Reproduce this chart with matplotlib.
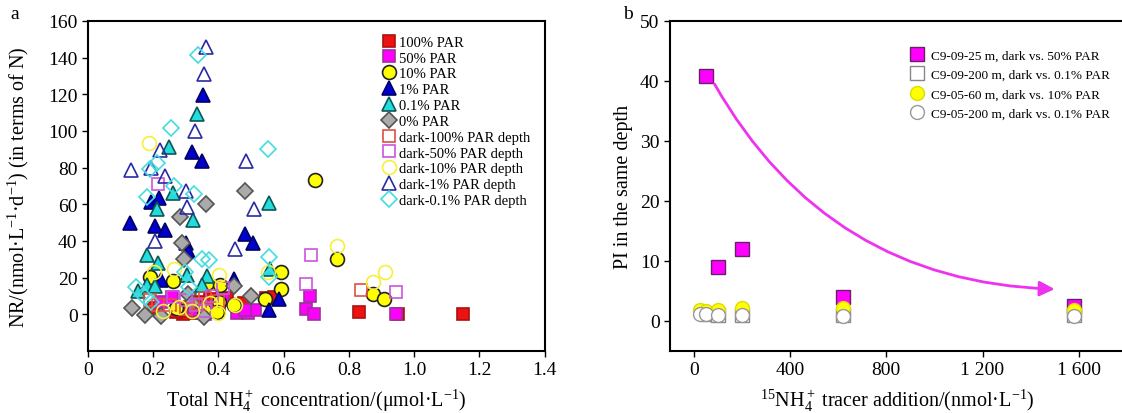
import matplotlib
matplotlib.use("Agg")
import matplotlib.pyplot as plt

plt.rcParams['font.family'] = ['Liberation Serif', 'DejaVu Serif']
plt.rcParams['mathtext.fontset'] = 'custom'
plt.rcParams['mathtext.rm'] = 'Liberation Serif'
plt.rcParams['mathtext.it'] = 'Liberation Serif:italic'

# ---- panel a data: NH4+ concentration vs NR ----
p100_x = [0.292, 0.27, 0.314, 0.347, 0.375, 0.425, 0.478, 0.547, 0.569, 0.402, 0.203, 0.832, 0.950, 1.150, 0.30, 0.33]
p100_y = [0, 1.4, 4.2, 6.9, 8.3, 8.7, 6.0, 8.7, 9.6, 5.0, 3.3, 1.3, 0, 0, 2, 0.5]

p50_x = [0.682, 0.667, 0.693, 0.945, 0.457, 0.491, 0.513, 0.258, 0.413, 0.225, 0.325, 0.358, 0.482, 0.38]
p50_y = [10.2, 3.1, 0, 0, 0.5, 0.5, 2.4, 9.6, 7.8, 6.9, 2.4, 0, 2.2, 4]

p10_x = [0.696, 0.762, 0.873, 0.906, 0.592, 0.592, 0.542, 0.190, 0.260, 0.364, 0.405, 0.402, 0.447, 0.271, 0.357, 0.395]
p10_y = [73, 30.2, 10.8, 8.5, 23, 13.5, 8.5, 20.5, 18, 16.9, 16, 6.9, 5, 3.4, 2.2, 1.2]

p1_x = [0.353, 0.318, 0.351, 0.130, 0.194, 0.218, 0.204, 0.235, 0.302, 0.307, 0.480, 0.505, 0.555, 0.585, 0.449, 0.225]
p1_y = [119.5, 88.4, 83.5, 49.5, 61.4, 63.2, 48.3, 46.2, 39, 34.5, 43.5, 38.6, 2.5, 8.4, 19.2, 18.7]

p01_x = [0.333, 0.248, 0.261, 0.212, 0.321, 0.554, 0.182, 0.215, 0.153, 0.182, 0.204, 0.305, 0.364, 0.348, 0.558]
p01_y = [109, 91.4, 65.9, 57.3, 51.5, 60.7, 32.2, 28.2, 12.9, 16, 15.6, 21.4, 21, 16, 24.6]

p0_x = [0.480, 0.362, 0.282, 0.288, 0.295, 0.449, 0.500, 0.135, 0.174, 0.223, 0.357, 0.307, 0.32]
p0_y = [67.3, 60.2, 53, 38.8, 30.2, 15.6, 9.8, 3.4, -0.2, -1.2, -1.4, 11, 6]

d100_x = [0.837, 0.215, 0.251, 0.343, 0.19, 0.30, 0.40, 0.36]
d100_y = [13, 5.2, 4.8, 5.8, 8, 3, 7, 9]

d50_x = [0.216, 0.684, 0.667, 0.945, 0.414, 0.262, 0.30, 0.33, 0.36, 0.38]
d50_y = [71, 32.3, 16.3, 12.4, 14.1, 9.6, 8, 5, 2, 10]

d10_x = [0.186, 0.762, 0.873, 0.910, 0.552, 0.402, 0.264, 0.203, 0.28, 0.319, 0.375, 0.40, 0.23, 0.45]
d10_y = [93.5, 37.3, 17.5, 23, 23.2, 21.4, 24.5, 23.2, 4.2, 1.8, 6, 0.5, 2, 5]

d1_x = [0.362, 0.355, 0.328, 0.132, 0.194, 0.220, 0.237, 0.302, 0.305, 0.204, 0.485, 0.508, 0.451]
d1_y = [146, 131, 99.8, 78.8, 80, 89.8, 75.5, 67.3, 58.7, 39.9, 83.8, 57.3, 35.6]

d01_x = [0.337, 0.253, 0.553, 0.189, 0.212, 0.182, 0.264, 0.325, 0.556, 0.350, 0.372, 0.310, 0.148, 0.174, 0.194, 0.554, 0.296]
d01_y = [141.5, 101.5, 90, 79, 82.5, 64, 70, 65.5, 31, 30, 29.5, 14.7, 14.7, 9.3, 6.6, 20.1, 23]

# ---- panel b data: tracer addition vs PI ----
c0925_x = [50, 100, 200, 620, 1580]
c0925_y = [40.8, 9, 12, 4, 2.5]
c09200_x = [50, 100, 200, 620, 1580]
c09200_y = [1.2, 1.0, 1.0, 1.0, 1.0]
c0560_x = [25, 50, 100, 200, 620, 1580]
c0560_y = [1.9, 1.7, 1.8, 2.2, 2.2, 1.8]
c05200_x = [25, 50, 100, 200, 620, 1580]
c05200_y = [1.2, 1.2, 1.0, 1.0, 0.9, 0.8]

fig = plt.figure(figsize=(11.22, 4.14), dpi=100)
ax1 = fig.add_axes([0.0784, 0.150, 0.4071, 0.797])
ax2 = fig.add_axes([0.5971, 0.150, 0.4050, 0.797])

# panel a
series = [
    (p100_x, p100_y, 's', '#ee1111', '#aa1111', '100% PAR', 9),
    (p50_x, p50_y, 's', '#ff00ff', '#993399', '50% PAR', 9),
    (p10_x, p10_y, 'o', '#ffff00', '#222222', '10% PAR', 10),
    (p1_x, p1_y, '^', '#0000cc', '#000066', '1% PAR', 10),
    (p01_x, p01_y, '^', '#22dddd', '#115555', '0.1% PAR', 10),
    (p0_x, p0_y, 'D', '#aaaaaa', '#555555', '0% PAR', 8),
    (d100_x, d100_y, 's', 'none', '#e05040', 'dark-100% PAR depth', 9),
    (d50_x, d50_y, 's', 'none', '#cc55dd', 'dark-50% PAR depth', 9),
    (d10_x, d10_y, 'o', 'none', '#f5f03a', 'dark-10% PAR depth', 10),
    (d1_x, d1_y, '^', 'none', '#2a2aa5', 'dark-1% PAR depth', 10),
    (d01_x, d01_y, 'D', 'none', '#44dddd', 'dark-0.1% PAR depth', 8),
]
for x, y, m, fc, ec, lab, ms in series:
    ax1.plot(x, y, linestyle='none', marker=m, markersize=ms, markerfacecolor=fc,
             markeredgecolor=ec, markeredgewidth=1.2, label=lab)

ax1.set_xlim(0, 1.4)
ax1.set_ylim(-20, 160)
ax1.set_xticks([0, 0.2, 0.4, 0.6, 0.8, 1.0, 1.2, 1.4])
ax1.set_xticklabels(['0', '0.2', '0.4', '0.6', '0.8', '1.0', '1.2', '1.4'])
ax1.set_yticks(range(0, 161, 20))
ax1.set_xlabel('Total NH$_4^+$ concentration/(μmol·L$^{-1}$)', fontsize=14.5, labelpad=6)
ax1.set_ylabel('NR/(nmol·L$^{-1}$·d$^{-1}$) (in terms of N)', fontsize=14.5, labelpad=12)
ax1.legend(loc='upper right', frameon=False, fontsize=10.5, handletextpad=0.2,
           labelspacing=0.18, borderaxespad=0.6, handlelength=1.0)
fig.text(0.009, 0.955, 'a', fontsize=14)

# panel b
ax2.plot(c0925_x, c0925_y, linestyle='none', marker='s', markersize=10, markerfacecolor='#ff00ff',
         markeredgecolor='#662266', markeredgewidth=1.0, label='C9-09-25 m, dark vs. 50% PAR', zorder=3)
ax2.plot(c09200_x, c09200_y, linestyle='none', marker='s', markersize=10, markerfacecolor='white',
         markeredgecolor='#888888', markeredgewidth=1.0, label='C9-09-200 m, dark vs. 0.1% PAR', zorder=3)
ax2.plot(c0560_x, c0560_y, linestyle='none', marker='o', markersize=10, markerfacecolor='#ffff00',
         markeredgecolor='#dddd00', markeredgewidth=1.0, label='C9-05-60 m, dark vs. 10% PAR', zorder=4)
ax2.plot(c05200_x, c05200_y, linestyle='none', marker='o', markersize=10, markerfacecolor='white',
         markeredgecolor='#999999', markeredgewidth=1.0, label='C9-05-200 m, dark vs. 0.1% PAR', zorder=5)

ax2.annotate('', xy=(1500, 5.3), xytext=(85, 39.5),
             arrowprops=dict(arrowstyle='-|>,head_length=0.9,head_width=0.45', color='#ee33ee',
                             lw=2, connectionstyle='arc3,rad=0.28', shrinkA=0, shrinkB=0))

ax2.set_xlim(-100, 1790)
ax2.set_ylim(-5, 50)
ax2.set_xticks([0, 400, 800, 1200, 1600])
ax2.set_xticklabels(['0', '400', '800', '1 200', '1 600'])
ax2.set_yticks(range(0, 51, 10))
ax2.set_xlabel('$^{15}$NH$_4^+$ tracer addition/(nmol·L$^{-1}$)', fontsize=14.5, labelpad=6)
ax2.set_ylabel('PI in the same depth', fontsize=14.5, labelpad=5)
ax2.spines['right'].set_visible(False)
ax2.legend(loc='upper right', bbox_to_anchor=(0.995, 0.95), frameon=False, fontsize=9.5,
           handletextpad=0.6, labelspacing=0.55, handlelength=1.0)
fig.text(0.555, 0.955, 'b', fontsize=14)

for ax in (ax1, ax2):
    ax.tick_params(labelsize=14, length=4, width=1)
    for s in ax.spines.values():
        s.set_linewidth(1.5)

fig.savefig('out.png', dpi=100)
